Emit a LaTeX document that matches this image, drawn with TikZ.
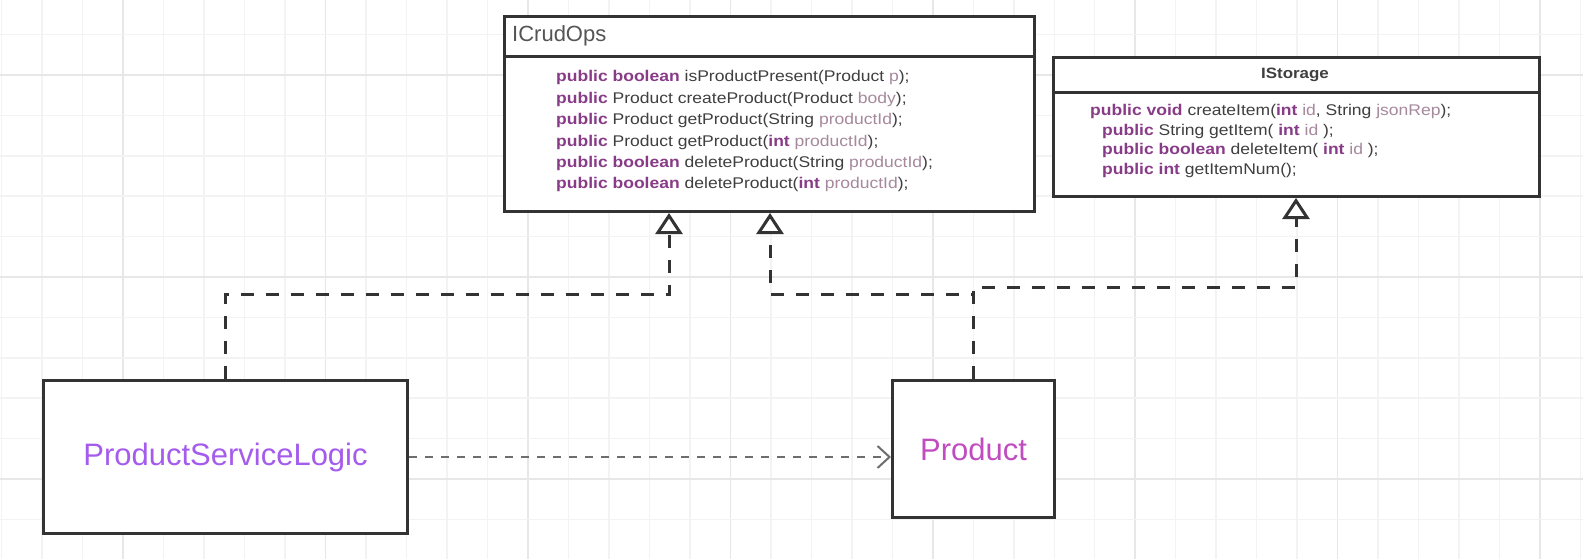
\documentclass[tikz,border=0pt]{standalone}
\usepackage{fontspec}
\setmainfont{Liberation Sans}
\newfontfamily\codefont[FakeStretch=1.13]{Liberation Sans}
\usetikzlibrary{arrows.meta}
\definecolor{kwc}{HTML}{883C88}
\definecolor{pac}{HTML}{A6899C}
\definecolor{txc}{HTML}{3F3F3F}
\definecolor{ttl}{HTML}{555555}
\definecolor{edge}{HTML}{333333}
\definecolor{depc}{HTML}{6E6E6E}
\definecolor{gridminor}{HTML}{F3F3F3}
\definecolor{gridmajor}{HTML}{E7E7E7}
\definecolor{pslc}{HTML}{A55CEC}
\definecolor{prc}{HTML}{C04DC0}
\newcommand{\kw}[1]{\textcolor{kwc}{\bfseries #1}}
\newcommand{\pa}[1]{\textcolor{pac}{#1}}
\begin{document}
\begin{tikzpicture}[x=1pt,y=-1pt,
  umlbox/.style={draw=edge, line width=3pt, fill=white, inner sep=0pt, anchor=north west},
  codeline/.style={anchor=base west, inner sep=0pt, font=\codefont\fontsize{15.5}{18}\selectfont, text=txc},
  realize/.style={draw=edge, line width=3pt, dash pattern=on 13pt off 12pt, -{Triangle[open, length=21pt, width=27pt, fill=white]}},
  depend/.style={draw=depc, line width=2pt, dash pattern=on 8pt off 8pt, -{Straight Barb[length=12pt, width=22pt]}}
]
\useasboundingbox (0,0) rectangle (1583,559);
\fill[white] (0,0) rectangle (1583,559);
% grid
\foreach \k in {0,...,39}{
  \pgfmathtruncatemacro\mm{mod(\k,5)}
  \pgfmathsetmacro\xx{1.5+40.49*\k}
  \ifnum\mm=3 \draw[gridmajor, line width=1.6pt] (\xx,0) -- (\xx,559); \else \draw[gridminor, line width=1.5pt] (\xx,0) -- (\xx,559); \fi
}
\foreach \j in {-1,...,12}{
  \pgfmathtruncatemacro\mm{mod(\j+5,5)}
  \pgfmathsetmacro\yy{75+40.4*\j}
  \ifnum\mm=0 \draw[gridmajor, line width=1.6pt] (0,\yy) -- (1583,\yy); \else \draw[gridminor, line width=1.5pt] (0,\yy) -- (1583,\yy); \fi
}

% ICrudOps
\node[umlbox, minimum width=530pt, minimum height=195pt] (icrud) at (503,15) {};
\draw[edge, line width=3pt] (503,57) -- (1033,57);
\node[anchor=west, inner sep=0pt, font=\fontsize{22}{26}\selectfont, text=ttl] (icrudT) at (512,36) {ICrudOps};
\node[codeline] (m1) at (556,82) {\kw{public boolean} isProductPresent(Product \pa{p});};
\node[codeline] (m2) at (556,103.4) {\kw{public} Product createProduct(Product \pa{body});};
\node[codeline] (m3) at (556,124.8) {\kw{public} Product getProduct(String \pa{productId});};
\node[codeline] (m4) at (556,146.2) {\kw{public} Product getProduct(\kw{int} \pa{productId});};
\node[codeline] (m5) at (556,167.6) {\kw{public boolean} deleteProduct(String \pa{productId});};
\node[codeline] (m6) at (556,189) {\kw{public boolean} deleteProduct(\kw{int} \pa{productId});};

% IStorage
\node[umlbox, minimum width=486pt, minimum height=139pt] (istor) at (1052,56) {};
\draw[edge, line width=3pt] (1052,93) -- (1538,93);
\node[inner sep=0pt, font=\codefont\bfseries\fontsize{15}{18}\selectfont, text=txc] (istorT) at (1295,74.5) {IStorage};
\node[codeline] (s1) at (1090,116) {\kw{public void} createItem(\kw{int} \pa{id}, String \pa{jsonRep});};
\node[codeline] (s2) at (1102,135.5) {\kw{public} String getItem( \kw{int} \pa{id} );};
\node[codeline] (s3) at (1102,155) {\kw{public boolean} deleteItem( \kw{int} \pa{id} );};
\node[codeline] (s4) at (1102,174.5) {\kw{public int} getItemNum();};

% classes
\node[umlbox, minimum width=364pt, minimum height=153pt, font=\fontsize{31}{36}\selectfont, text=pslc] (psl) at (42,379) {ProductServiceLogic};
\node[umlbox, minimum width=162pt, minimum height=137pt, font=\fontsize{31}{36}\selectfont, text=prc] (prod) at (891,379) {Product};

% connectors
\coordinate (j1) at (669,294);
\coordinate (j2) at (770,294);
\coordinate (j3) at (1296,287);
\draw[realize] (psl.north) |- (j1) -- (j1 |- icrud.south);
\draw[realize] (prod.north) |- (j2) -- (j2 |- icrud.south);
\draw[realize] (prod.north) |- (j3) -- (j3 |- istor.south);
\draw[depend] (psl.east) -- (psl.east -| prod.west);
\end{tikzpicture}
\end{document}
